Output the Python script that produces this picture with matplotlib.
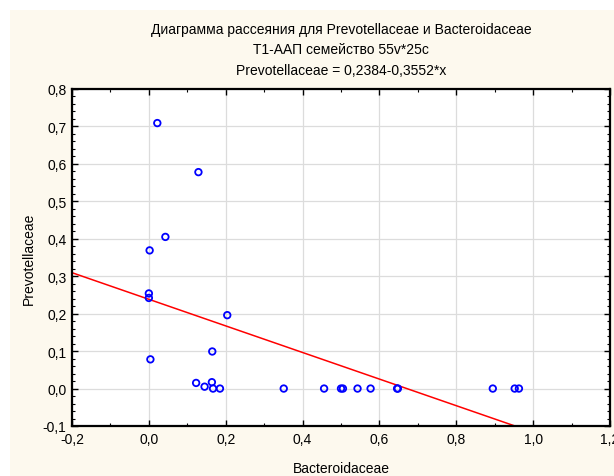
import matplotlib.pyplot as plt
from matplotlib.patches import Rectangle
from matplotlib.ticker import MultipleLocator, FuncFormatter

plt.rcParams["font.family"] = ["Liberation Sans", "DejaVu Sans"]

# Bacteroidaceae (x) vs Prevotellaceae (y), 25 cases
bacteroidaceae = [0.022, 0.129, 0.043, 0.002, 0.000, 0.000, 0.204, 0.165, 0.004,
                  0.123, 0.145, 0.164, 0.167, 0.185, 0.351, 0.456, 0.500, 0.505,
                  0.543, 0.577, 0.646, 0.648, 0.895, 0.952, 0.963]
prevotellaceae = [0.709, 0.578, 0.405, 0.369, 0.254, 0.242, 0.196, 0.099, 0.078,
                  0.015, 0.005, 0.017, 0.000, 0.000, 0.000, 0.000, 0.000, 0.000,
                  0.000, 0.000, 0.000, 0.000, 0.000, 0.000, 0.000]

# fitted line: Prevotellaceae = 0.2384 - 0.3552*x
intercept = 0.2384
slope = -0.3552

title_lines = [
    "Диаграмма рассеяния для Prevotellaceae и Bacteroidaceae",
    "T1-ААП семейство 55v*25c",
    "Prevotellaceae = 0,2384-0,3552*x",
]

xmin, xmax = -0.2, 1.2
ymin, ymax = -0.1, 0.8

fig = plt.figure(figsize=(6.14, 4.77), dpi=100, facecolor="white")
fig.patches.append(Rectangle((10 / 614, 0), 1, 1 - 11 / 477,
                             transform=fig.transFigure, facecolor="#fdf9ee",
                             edgecolor="none", zorder=-10))

ax = fig.add_axes([72 / 614, 1 - 427 / 477, 538 / 614, 337 / 477])
ax.set_facecolor("white")

ax.plot([xmin, xmax], [intercept + slope * xmin, intercept + slope * xmax],
        color="#ff0000", lw=1.1, zorder=2)
ax.scatter(bacteroidaceae, prevotellaceae, s=22, facecolors="none",
           edgecolors="#0000ff", linewidths=1.3, zorder=3)

ax.set_xlim(xmin, xmax)
ax.set_ylim(ymin, ymax)
ax.xaxis.set_major_locator(MultipleLocator(0.2))
ax.xaxis.set_minor_locator(MultipleLocator(0.1))
ax.yaxis.set_major_locator(MultipleLocator(0.1))
ax.yaxis.set_minor_locator(MultipleLocator(0.02))

comma = FuncFormatter(lambda v, p: f"{v:.1f}".replace(".", ",").replace("-0,0", "0,0"))
ax.xaxis.set_major_formatter(comma)
ax.yaxis.set_major_formatter(comma)

ax.tick_params(which="both", direction="in", top=True, right=True,
               labelsize=10, color="black", pad=4)
ax.tick_params(which="major", length=4, width=1)
ax.tick_params(which="minor", length=2.5, width=0.8)
ax.grid(which="major", color="#dcdcdc", lw=0.9, zorder=0)
ax.set_axisbelow(True)
for s in ax.spines.values():
    s.set_linewidth(1.6)

ax.set_xlabel("Bacteroidaceae", fontsize=10, labelpad=11)
ax.set_ylabel("Prevotellaceae", fontsize=10, labelpad=5)

for i, line in enumerate(title_lines):
    fig.text(341 / 614, 1 - (30 + 20.5 * i) / 477, line, ha="center", va="center",
             fontsize=10)

fig.savefig("out.png", dpi=100, facecolor=fig.get_facecolor())
